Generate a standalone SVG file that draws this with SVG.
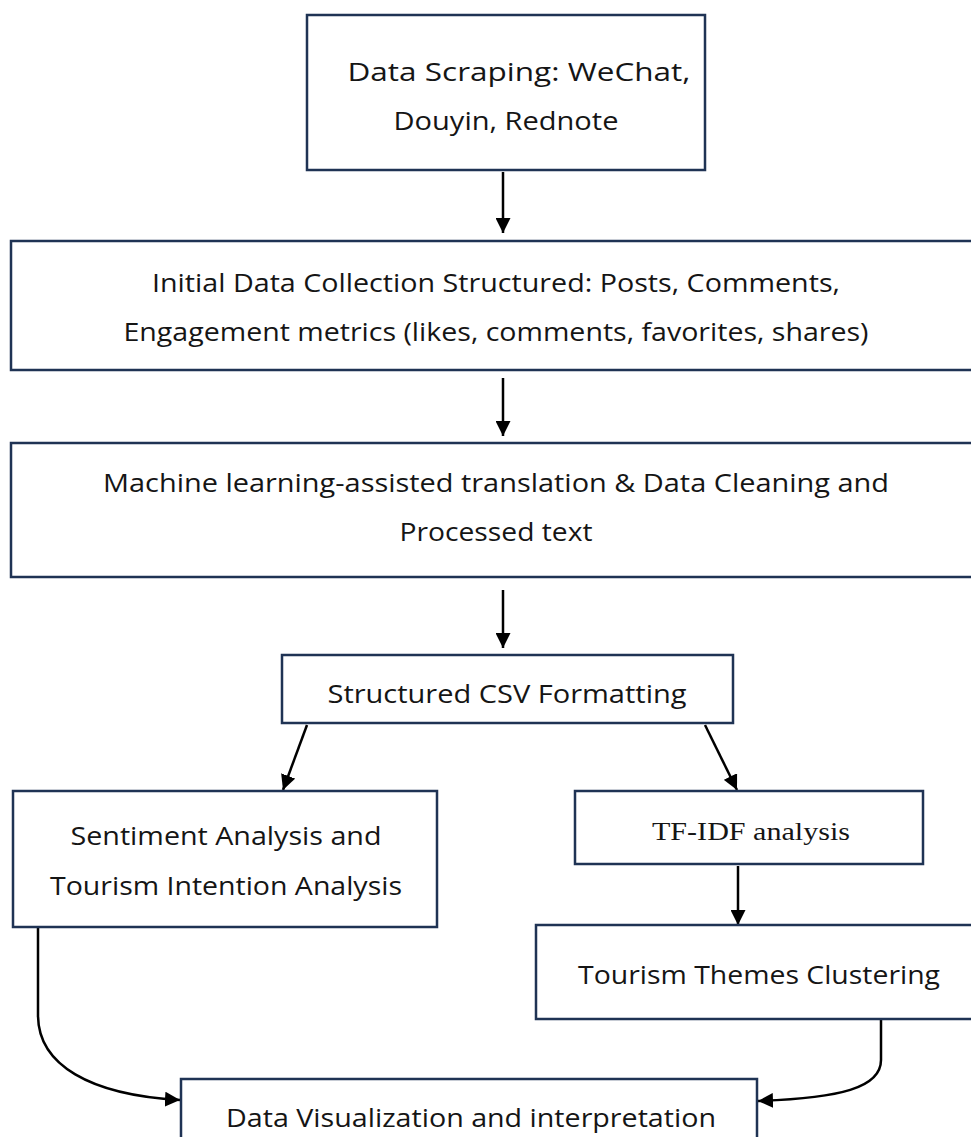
<svg xmlns="http://www.w3.org/2000/svg" width="971" height="1137" viewBox="0 0 971 1137">
<defs>
<style>
.box{fill:#fff;stroke:#1f3354;stroke-width:2.5}
.t{font-family:"Open Sans","Noto Sans","DejaVu Sans",sans-serif;font-size:25px;fill:#151515;text-anchor:middle}
.s{font-family:"Liberation Serif","Times New Roman",serif;font-size:25px;fill:#151515;text-anchor:middle}
.c{fill:none;stroke:#000;stroke-width:2.5}
</style>
<marker id="ah" viewBox="0 0 10 10" refX="10" refY="5" markerWidth="6" markerHeight="6" markerUnits="strokeWidth" orient="auto">
<path d="M0,0 L10,5 L0,10 z" fill="#000"/>
</marker>
</defs>
<rect width="971" height="1137" fill="#fff"/>
<g id="connectors">
<path class="c" d="M503,172 L503,233" marker-end="url(#ah)"/>
<path class="c" d="M503,378 L503,436" marker-end="url(#ah)"/>
<path class="c" d="M503,590 L503,648" marker-end="url(#ah)"/>
<path class="c" d="M307,725 L283,790" marker-end="url(#ah)"/>
<path class="c" d="M705,725 L737,790" marker-end="url(#ah)"/>
<path class="c" d="M738,866 L738,925" marker-end="url(#ah)"/>
<path class="c" d="M38,928 L38,1015 C38,1065 90,1095 180,1100" marker-end="url(#ah)"/>
<path class="c" d="M881,1020 L881,1060 C881,1088 840,1098 758,1101" marker-end="url(#ah)"/>
</g>
<g id="n1"><rect class="box" x="307" y="15" width="398" height="155"/>
<text class="t" x="519" y="81" textLength="343" lengthAdjust="spacingAndGlyphs">Data Scraping: WeChat,</text>
<text class="t" x="506" y="130" textLength="225" lengthAdjust="spacingAndGlyphs">Douyin, Rednote</text></g>
<g id="n2"><rect class="box" x="11" y="241" width="965" height="129"/>
<text class="t" x="496" y="292" textLength="688" lengthAdjust="spacingAndGlyphs">Initial Data Collection Structured: Posts, Comments,</text>
<text class="t" x="496" y="341" textLength="745" lengthAdjust="spacingAndGlyphs">Engagement metrics (likes, comments, favorites, shares)</text></g>
<g id="n3"><rect class="box" x="11" y="443" width="965" height="134"/>
<text class="t" x="496" y="492" textLength="786" lengthAdjust="spacingAndGlyphs">Machine learning-assisted translation &amp; Data Cleaning and</text>
<text class="t" x="496" y="541" textLength="193" lengthAdjust="spacingAndGlyphs">Processed text</text></g>
<g id="n4"><rect class="box" x="282" y="655" width="451" height="68"/>
<text class="t" x="507" y="703" textLength="359" lengthAdjust="spacingAndGlyphs">Structured CSV Formatting</text></g>
<g id="n5"><rect class="box" x="13" y="791" width="424" height="136"/>
<text class="t" x="226" y="845" textLength="311" lengthAdjust="spacingAndGlyphs">Sentiment Analysis and</text>
<text class="t" x="226" y="895" textLength="352" lengthAdjust="spacingAndGlyphs">Tourism Intention Analysis</text></g>
<g id="n6"><rect class="box" x="575" y="791" width="348" height="73"/>
<text class="s" x="751" y="840" textLength="198" lengthAdjust="spacingAndGlyphs">TF-IDF analysis</text></g>
<g id="n7"><rect class="box" x="536" y="925" width="440" height="94"/>
<text class="t" x="759" y="984" textLength="362" lengthAdjust="spacingAndGlyphs">Tourism Themes Clustering</text></g>
<g id="n8"><rect class="box" x="181" y="1079" width="576" height="80"/>
<text class="t" x="471" y="1127" textLength="490" lengthAdjust="spacingAndGlyphs">Data Visualization and interpretation</text></g>
</svg>
